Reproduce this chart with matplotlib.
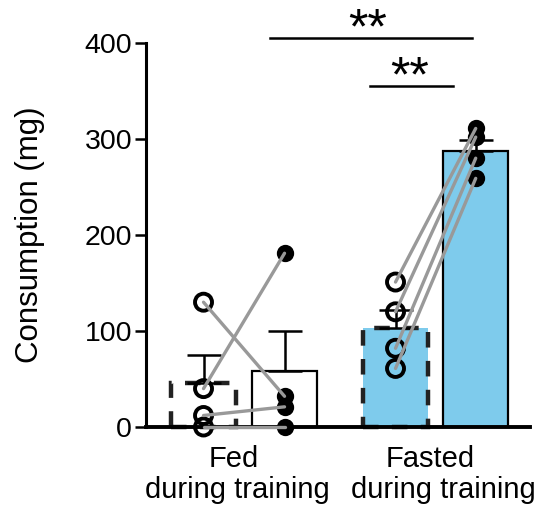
import matplotlib
matplotlib.use("Agg")
import matplotlib.pyplot as plt
import numpy as np

plt.rcParams['font.family'] = ['Liberation Sans', 'DejaVu Sans']

# data
group_top = ["Fed", "Fasted"]
group_bottom = ["during training", "during training"]
fed_fed = [130, 40, 12, 0]          # open circles, fed group, first condition
fed_fasted = [32, 181, 21, 0]       # filled circles, fed group, second condition
fast_fed = [151, 120, 82, 61]       # open circles, fasted group
fast_fasted = [311, 302, 280, 259]  # filled circles, fasted group
bar_means = [45.5, 58, 103.5, 288]
bar_err_top = [75, 100, 122, 299]
bar_colors = ["white", "white", "#7ECBEC", "#7ECBEC"]
bar_dashed = [True, False, True, False]
yticks = [0, 100, 200, 300, 400]

xpos = [0, 1, 2.37, 3.36]
width = 0.8

fig = plt.figure(figsize=(5.48, 5.12), dpi=100)
ax = fig.add_axes([146/548, 85/512, 384/548, 384/512])
ax.set_xlim(-0.71, 4.03)
ax.set_ylim(0, 400)

for x, m, c, d in zip(xpos, bar_means, bar_colors, bar_dashed):
    if d:
        ax.bar(x, m, width=width, color=c, edgecolor="none", zorder=1)
        ax.bar(x, m, width=width, facecolor="none", edgecolor="#222222",
               linewidth=3.2, linestyle=(0, (3.5, 3)), zorder=2, clip_on=False)
    else:
        ax.bar(x, m, width=width, color=c, edgecolor="black", linewidth=1.6,
               zorder=1)

for x, m, e in zip(xpos, bar_means, bar_err_top):
    ax.errorbar([x], [m], yerr=[[0], [e - m]], fmt="none", ecolor="black",
                elinewidth=1.8, capsize=12, capthick=1.8, zorder=3)

pairs = [(fed_fed, fed_fasted, xpos[0], xpos[1]),
         (fast_fed, fast_fasted, xpos[2], xpos[3])]
for a, b, x0, x1 in pairs:
    ax.scatter([x0]*len(a), a, s=150, facecolors="none", edgecolors="black",
               linewidths=2.8, zorder=4, clip_on=False)
    ax.scatter([x1]*len(b), b, s=120, facecolors="black", edgecolors="black",
               linewidths=1.5, zorder=4, clip_on=False)
    for va, vb in zip(a, b):
        ax.plot([x0, x1], [va, vb], color="#999999", linewidth=2.4, zorder=5,
                solid_capstyle="round", clip_on=False)

# significance
ax.plot([0.82, 3.31], [405, 405], color="black", linewidth=1.8, clip_on=False)
ax.text(2.02, 400, "**", ha="center", va="baseline", fontsize=36, clip_on=False)
ax.plot([2.06, 3.08], [355, 355], color="black", linewidth=1.8, clip_on=False)
ax.text(2.54, 350, "**", ha="center", va="baseline", fontsize=36, clip_on=False)

for s in ["top", "right"]:
    ax.spines[s].set_visible(False)
ax.spines["left"].set_linewidth(2.2)
ax.spines["bottom"].set_linewidth(2.8)
ax.set_yticks(yticks)
ax.tick_params(axis="y", length=8, width=1.8, labelsize=20.5, pad=2)
ax.set_xticks([])
ax.set_ylabel("Consumption (mg)", fontsize=22.5)
ax.yaxis.set_label_coords(-101/384, 0.5)

top_x = [0.377, 2.80]
bottom_x = [0.414, 2.96]
for tx, bx, t, b in zip(top_x, bottom_x, group_top, group_bottom):
    ax.text(tx, -41.7, t, ha="center", va="baseline", fontsize=21,
            clip_on=False)
    ax.text(bx, -74, b, ha="center", va="baseline", fontsize=21,
            clip_on=False)

fig.savefig("out.png", dpi=100)
